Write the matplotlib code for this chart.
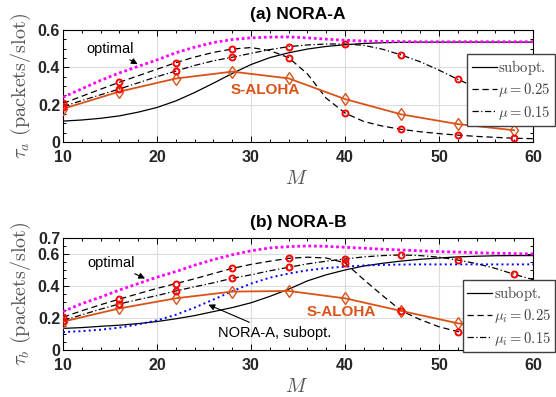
import numpy as np
import matplotlib.pyplot as plt
from matplotlib.ticker import MultipleLocator

plt.rcParams['mathtext.fontset'] = 'cm'
plt.rcParams['font.family'] = 'Liberation Sans'

# number of users, curves sampled every 2, markers every 6
M = np.arange(10, 61, 2)
M_mk = np.arange(10, 59, 6)

# (a) NORA-A
opt_a = [0.24, 0.285, 0.33, 0.37, 0.405, 0.44, 0.478, 0.508, 0.533, 0.549, 0.558, 0.562, 0.563,
         0.558, 0.551, 0.545, 0.541, 0.539, 0.538, 0.537, 0.537, 0.537, 0.537, 0.537, 0.537, 0.537]
sub_a = [0.112, 0.118, 0.127, 0.14, 0.16, 0.185, 0.22, 0.265, 0.315, 0.367, 0.415, 0.452, 0.478,
         0.498, 0.512, 0.521, 0.528, 0.532, 0.534, 0.535, 0.535, 0.535, 0.535, 0.535, 0.535, 0.535]
mu25_a = [0.207, 0.245, 0.283, 0.32, 0.355, 0.39, 0.425, 0.455, 0.48, 0.498, 0.506, 0.49, 0.452,
          0.365, 0.235, 0.155, 0.11, 0.085, 0.068, 0.055, 0.045, 0.037, 0.03, 0.025, 0.02, 0.018]
mu15_a = [0.19, 0.222, 0.253, 0.284, 0.317, 0.35, 0.38, 0.41, 0.435, 0.454, 0.475, 0.495, 0.511,
          0.52, 0.525, 0.525, 0.518, 0.497, 0.466, 0.43, 0.385, 0.336, 0.29, 0.25, 0.22, 0.2]
aloha_a = [0.178, 0.27, 0.34, 0.377, 0.341, 0.23, 0.148, 0.096, 0.063]

# (b) NORA-B
opt_b = [0.24, 0.29, 0.33, 0.375, 0.415, 0.455, 0.49, 0.53, 0.565, 0.595, 0.62, 0.638, 0.646,
         0.65, 0.648, 0.642, 0.636, 0.63, 0.625, 0.62, 0.615, 0.612, 0.608, 0.605, 0.603, 0.6]
sub_b = [0.135, 0.14, 0.148, 0.155, 0.165, 0.178, 0.195, 0.215, 0.24, 0.265, 0.295, 0.335, 0.38,
         0.432, 0.47, 0.5, 0.525, 0.542, 0.556, 0.567, 0.575, 0.582, 0.586, 0.589, 0.59, 0.59]
mu25_b = [0.205, 0.245, 0.283, 0.318, 0.352, 0.385, 0.415, 0.445, 0.478, 0.51, 0.535, 0.555, 0.573,
          0.58, 0.575, 0.545, 0.44, 0.34, 0.245, 0.19, 0.145, 0.115, 0.095, 0.08, 0.07, 0.065]
mu15_b = [0.183, 0.22, 0.255, 0.288, 0.315, 0.34, 0.369, 0.395, 0.42, 0.448, 0.47, 0.495, 0.517,
          0.538, 0.555, 0.569, 0.582, 0.59, 0.594, 0.59, 0.58, 0.5625, 0.54, 0.51, 0.473, 0.44]
aloha_b = [0.177, 0.26, 0.323, 0.365, 0.369, 0.323, 0.244, 0.167, 0.12]
nora_a_sub = sub_a  # blue dotted reference curve in (b)

orange = '#D95319'

fig = plt.figure(figsize=(5.56, 3.97), dpi=100)
ax_a = fig.add_axes([0.1133, 0.6423, 0.8453, 0.2821])
ax_b = fig.add_axes([0.1133, 0.1184, 0.8453, 0.2821])


def draw(ax, opt, sub, mu25, mu15, aloha, labels):
    ax.plot(M, opt, color='magenta', ls=(0, (1, 1)), lw=2.0, zorder=3)
    h1, = ax.plot(M, sub, color='k', lw=0.9, label=labels[0])
    h2, = ax.plot(M, mu25, color='k', ls=(0, (5, 3)), lw=0.9, label=labels[1])
    h3, = ax.plot(M, mu15, color='k', ls=(0, (5, 2, 1, 2)), lw=0.9, label=labels[2])
    ax.plot(M_mk, np.array(mu25)[::3], 'o', ms=4.3, mfc='none', mec='red', mew=1.4, zorder=5)
    ax.plot(M_mk, np.array(mu15)[::3], 'o', ms=4.3, mfc='none', mec='red', mew=1.4, zorder=5)
    ax.plot(M_mk, aloha, color=orange, lw=1.3, marker='d', ms=6.5, mfc='none', mew=1.0, zorder=4)
    ax.set_xlim(10, 60)
    ax.xaxis.set_major_locator(MultipleLocator(10))
    ax.xaxis.set_minor_locator(MultipleLocator(2))
    ax.yaxis.set_minor_locator(MultipleLocator(0.05))
    ax.grid(True, which='major', color='#dcdcdc', lw=0.8)
    ax.set_axisbelow(True)
    ax.tick_params(which='both', direction='in', top=True, right=True, width=0.7)
    ax.tick_params(which='major', length=4, labelsize=11.5)
    ax.tick_params(axis='x', which='major', pad=6)
    ax.tick_params(axis='y', which='major', pad=2)
    ax.tick_params(which='minor', length=2.5)
    for lab in ax.get_xticklabels():
        lab.set_fontweight('bold')
        lab.set_color('#262626')
    for s in ax.spines.values():
        s.set_linewidth(0.8)
    return [h1, h2, h3]


ha = draw(ax_a, opt_a, sub_a, mu25_a, mu15_a, aloha_a,
          [r'$\mathrm{subopt.}$', r'$\mu = 0.25$', r'$\mu = 0.15$'])
ax_a.set_ylim(0, 0.6)
ax_a.set_yticks([0, 0.2, 0.4, 0.6])
ax_a.set_yticklabels(['0', '0.2', '0.4', '0.6'], fontweight='bold', color='#262626')

ax_b.plot(M, nora_a_sub, color='blue', ls=':', lw=1.4, zorder=3)
hb = draw(ax_b, opt_b, sub_b, mu25_b, mu15_b, aloha_b,
          [r'$\mathrm{subopt.}$', r'$\mu_i = 0.25$', r'$\mu_i = 0.15$'])
ax_b.set_ylim(0, 0.7)
ax_b.set_yticks([0, 0.2, 0.4, 0.6, 0.7])
ax_b.set_yticklabels(['0', '0.2', '0.4', '0.6', '0.7'], fontweight='bold', color='#262626')
ax_b.grid(False)
for v in [0.2, 0.4, 0.6]:
    ax_b.axhline(v, color='#dcdcdc', lw=0.8, zorder=0)
for v in [20, 30, 40, 50]:
    ax_b.axvline(v, color='#dcdcdc', lw=0.8, zorder=0)

for ax, hh, anchor in [(ax_a, ha, (0.998, 0.864)), (ax_b, hb, (0.998, 0.2947))]:
    leg = ax.legend(handles=hh, loc='upper right', bbox_to_anchor=anchor,
                    bbox_transform=fig.transFigure, fontsize=10.5, fancybox=False,
                    framealpha=1, edgecolor='#404040', handlelength=1.7,
                    handletextpad=0.1, borderpad=0.3, labelspacing=0.28, borderaxespad=0)
    leg.get_frame().set_linewidth(1.0)
    for t in leg.get_texts():
        t.set_color('#404040')

# titles and axis labels
fig.text(0.536, 1 - 15 / 397, '(a) NORA-A', ha='center', va='center', fontsize=12.5, fontweight='bold')
fig.text(0.536, 1 - 222 / 397, '(b) NORA-B', ha='center', va='center', fontsize=12.5, fontweight='bold')
fig.text(21 / 556, 1 - 86 / 397, r'$\tau_a\ \mathrm{(packets/slot)}$', rotation=90,
         ha='center', va='center', fontsize=14.5, color='#555555')
fig.text(21 / 556, 1 - 294 / 397, r'$\tau_b\ \mathrm{(packets/slot)}$', rotation=90,
         ha='center', va='center', fontsize=14.5, color='#555555')
fig.text(297 / 556, 1 - 178 / 397, r'$M$', ha='center', va='center', fontsize=14.5, color='#555555')
fig.text(297 / 556, 1 - 386 / 397, r'$M$', ha='center', va='center', fontsize=14.5, color='#555555')

# annotations
arrow = dict(arrowstyle='-|>', color='k', lw=0.8, mutation_scale=9)
ax_a.annotate('optimal', xy=(18.2, 0.41), xytext=(17.5, 0.5), ha='right', va='center',
              fontsize=10.5, arrowprops=arrow)
ax_a.text(31.5, 0.28, 'S-ALOHA', color=orange, fontsize=11, fontweight='bold',
          ha='center', va='center')
ax_b.annotate('optimal', xy=(19.0, 0.44), xytext=(17.6, 0.545), ha='right', va='center',
              fontsize=10.5, arrowprops=arrow)
ax_b.annotate('NORA-A, subopt.', xy=(25.2, 0.29), xytext=(26.5, 0.105), ha='left', va='center',
              fontsize=10.5, arrowprops=arrow)
ax_b.text(39.6, 0.2375, 'S-ALOHA', color=orange, fontsize=11, fontweight='bold',
          ha='center', va='center')

fig.savefig('out.png', dpi=100)
